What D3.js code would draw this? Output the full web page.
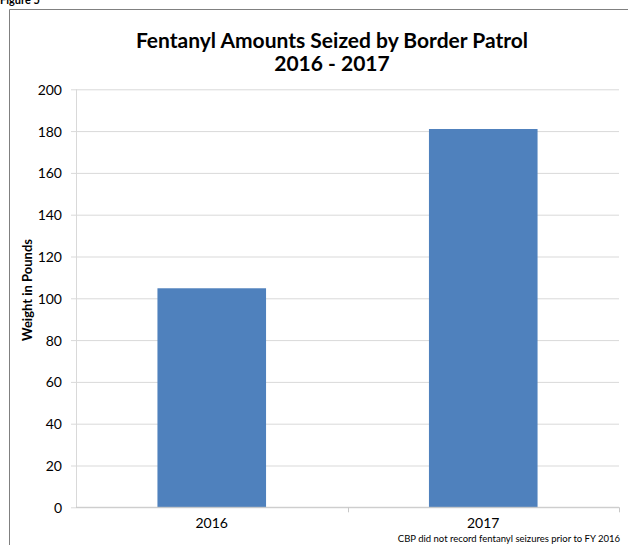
<!DOCTYPE html>
<html>
<head>
<meta charset="utf-8">
<script src="https://cdn.jsdelivr.net/npm/d3@7/dist/d3.min.js"></script>
<style>
  html, body { margin: 0; padding: 0; background: #fff; }
  svg { display: block; }
  text { font-family: Lato, "Open Sans", sans-serif; fill: #000; }
</style>
</head>
<body>
<svg id="chart" width="628" height="545"></svg>
<script>
const categories = ["2016", "2017"];
const values = [104.8, 181];
const yTicks = [0, 20, 40, 60, 80, 100, 120, 140, 160, 180, 200];
const titleLines = ["Fentanyl Amounts Seized by Border Patrol", "2016 - 2017"];
const yLabel = "Weight in Pounds";
const footnote = "CBP did not record fentanyl seizures prior to FY 2016";
const figureLabel = "Figure 5";

const svg = d3.select("#chart");
const W = 628, H = 545;
const plot = { left: 76, right: 619, top: 89.3, bottom: 507.3 };

// outer frame (left + top edges visible)
svg.append("path")
  .attr("d", `M9.5,${H} L9.5,9.5 L${W},9.5`)
  .attr("fill", "none").attr("stroke", "#808080").attr("stroke-width", 1);

svg.append("text").attr("x", 0).attr("y", 4)
  .attr("font-size", 11).attr("font-weight", "bold").text(figureLabel);

const x = d3.scaleBand().domain(categories)
  .range([plot.left, plot.right]).paddingInner(0.6).paddingOuter(0.3);
const y = d3.scaleLinear().domain([0, 200]).range([plot.bottom, plot.top]);

// gridlines + y axis
const yAxis = d3.axisLeft(y).tickValues(yTicks)
  .tickSize(-(plot.right - plot.left)).tickPadding(14).tickFormat(d3.format("d"));
const gy = svg.append("g").attr("transform", `translate(${plot.left},0)`).call(yAxis);
gy.select(".domain").remove();
gy.selectAll(".tick line").attr("stroke", "#d9d9d9").attr("x1", -5);
gy.selectAll(".tick text").attr("font-size", 14).attr("fill", "#000").attr("dy", "0.36em");
svg.append("line")
  .attr("x1", plot.left + 0.5).attr("x2", plot.left + 0.5)
  .attr("y1", plot.top).attr("y2", plot.bottom)
  .attr("stroke", "#d9d9d9");

// bars
svg.append("g").selectAll("rect").data(values).join("rect")
  .attr("x", (d, i) => x(categories[i]))
  .attr("width", x.bandwidth())
  .attr("y", d => y(d))
  .attr("height", d => y(0) - y(d))
  .attr("fill", "#4f81bd");

// x axis
svg.append("line")
  .attr("x1", plot.left).attr("x2", plot.right)
  .attr("y1", plot.bottom).attr("y2", plot.bottom)
  .attr("stroke", "#c8c8c8");
const step = x.step();
const boundaries = categories.map(c => x(c) - (step * x.paddingInner()) / 2);
boundaries.push(plot.right);
svg.append("g").selectAll("line").data(boundaries.slice(1)).join("line")
  .attr("x1", d => Math.round(d) + 0.5).attr("x2", d => Math.round(d) + 0.5)
  .attr("y1", plot.bottom).attr("y2", plot.bottom + 5)
  .attr("stroke", "#c8c8c8");
svg.append("g").selectAll("text").data(categories).join("text")
  .attr("x", d => x(d) + x.bandwidth() / 2)
  .attr("y", plot.bottom + 21)
  .attr("text-anchor", "middle").attr("font-size", 14)
  .text(d => d);

// title
svg.append("g").selectAll("text").data(titleLines).join("text")
  .attr("x", 332).attr("y", (d, i) => 47.5 + i * 23)
  .attr("text-anchor", "middle").attr("font-size", 21).attr("font-weight", "bold")
  .text(d => d);

// y label
svg.append("text")
  .attr("transform", "translate(32,290) rotate(-90)")
  .attr("text-anchor", "middle").attr("font-size", 13).attr("font-weight", "bold")
  .text(yLabel);

// footnote
svg.append("text").attr("x", 620).attr("y", 542)
  .attr("text-anchor", "end").attr("font-size", 9.5).attr("fill", "#000")
  .text(footnote);
</script>
</body>
</html>
